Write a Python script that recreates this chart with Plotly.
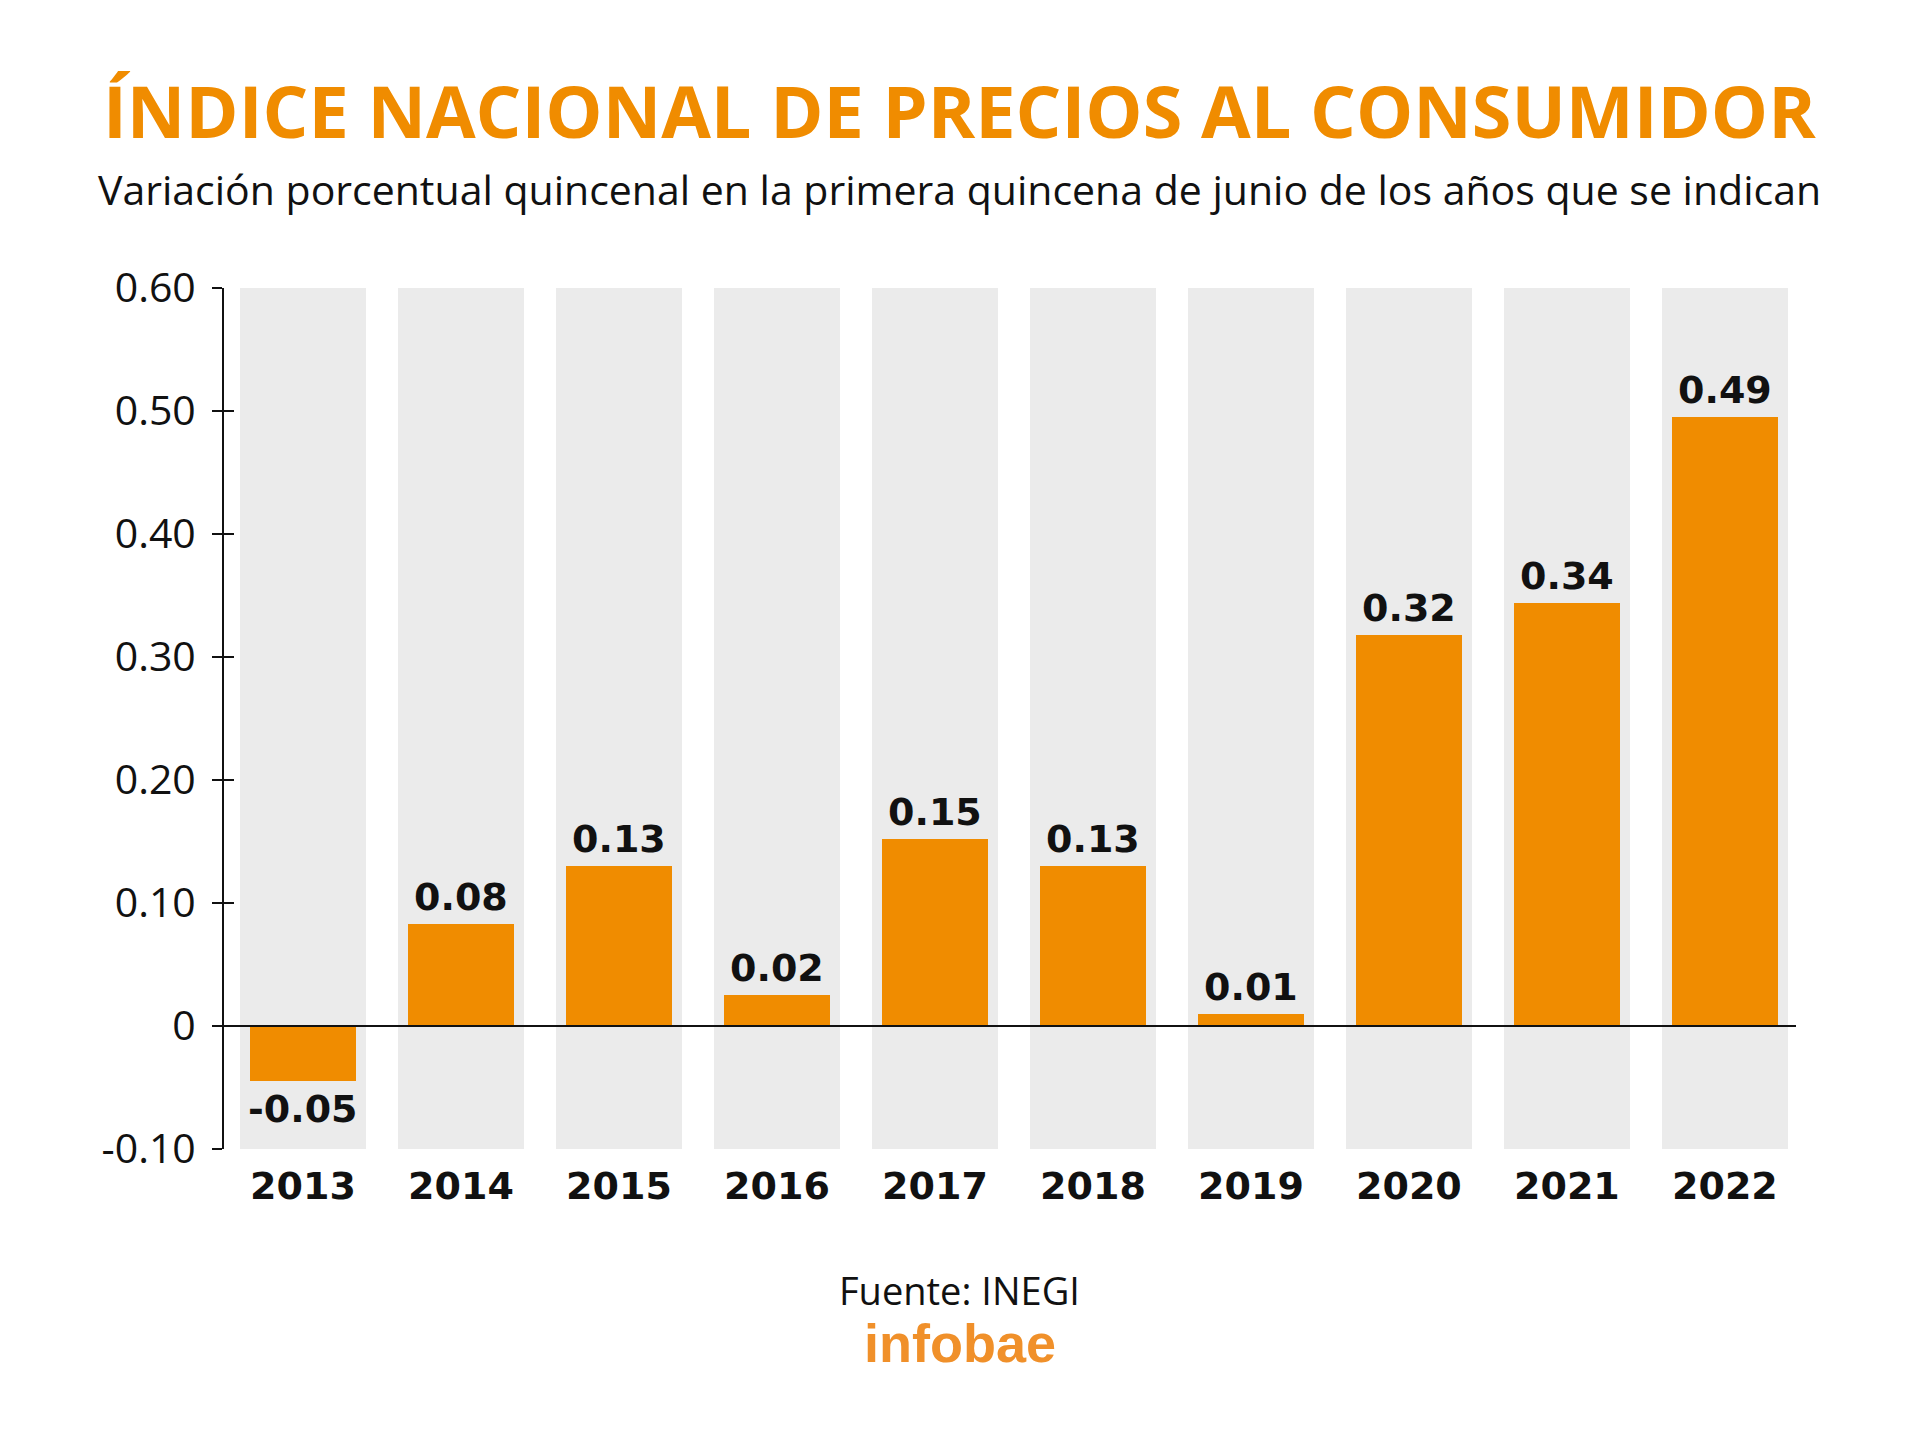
import plotly.graph_objects as go

years = ["2013", "2014", "2015", "2016", "2017", "2018", "2019", "2020", "2021", "2022"]
values = [-0.045, 0.083, 0.13, 0.025, 0.152, 0.13, 0.01, 0.318, 0.344, 0.495]
value_labels = ["-0.05", "0.08", "0.13", "0.02", "0.15", "0.13", "0.01", "0.32", "0.34", "0.49"]
y_tick_vals = [-0.1, 0, 0.1, 0.2, 0.3, 0.4, 0.5, 0.6]
y_tick_text = ["-0.10", "0", "0.10", "0.20", "0.30", "0.40", "0.50", "0.60"]

Y_MIN, Y_MAX = -0.1, 0.6
ORANGE = "#F08C00"
GREY = "#EBEBEB"
REG = "Open Sans, Liberation Sans, sans-serif"
BOLD = "DejaVu Sans, sans-serif"

fig = go.Figure()

# grey column backdrops spanning the whole value range
fig.add_trace(go.Bar(
    x=years, y=[Y_MAX - Y_MIN] * len(years), base=[Y_MIN] * len(years),
    width=0.8, marker=dict(color=GREY, line=dict(width=0)),
    hoverinfo="skip", showlegend=False,
))
fig.add_trace(go.Bar(
    x=years, y=values, width=0.67,
    marker=dict(color=ORANGE, line=dict(width=0)),
    showlegend=False,
))

annotations = []
for i, (v, lab) in enumerate(zip(values, value_labels)):
    annotations.append(dict(
        x=i, y=v, xref="x", yref="y", text=lab, showarrow=False,
        yanchor="bottom" if v >= 0 else "top",
        yshift=3 if v >= 0 else -4,
        font=dict(family=BOLD, size=38, color="#111111", weight="bold"),
    ))

def py(pix):
    return (1149 - pix) / 861.0

annotations += [
    dict(text="ÍNDICE NACIONAL DE PRECIOS AL CONSUMIDOR", x=0.468, y=py(110),
         xref="paper", yref="paper", showarrow=False, xanchor="center", yanchor="middle",
         font=dict(family="Open Sans, sans-serif", size=72, color=ORANGE, weight="bold")),
    dict(text="Variación porcentual quincenal en la primera quincena de junio de los años que se indican",
         x=0.468, y=py(189), xref="paper", yref="paper", showarrow=False,
         xanchor="center", yanchor="middle",
         font=dict(family=REG, size=41, color="#111111")),
    dict(text="Fuente: INEGI", x=0.468, y=py(1290), xref="paper", yref="paper",
         showarrow=False, xanchor="center", yanchor="middle",
         font=dict(family=REG, size=38, color="#111111")),
    dict(text="infobae", x=0.468, y=py(1343), xref="paper", yref="paper",
         showarrow=False, xanchor="center", yanchor="middle",
         font=dict(family="Liberation Sans, Arial, sans-serif", size=54, color="#F0902A", weight="bold")),
]

fig.update_layout(
    width=1920, height=1450,
    margin=dict(l=224, r=124, t=288, b=301),
    paper_bgcolor="white", plot_bgcolor="white",
    barmode="overlay", bargap=0,
    annotations=annotations,
    shapes=[dict(type="line", xref="paper", yref="y", x0=0, x1=1, y0=0, y1=0,
                 line=dict(color="#111111", width=2), layer="above")],
    xaxis=dict(
        type="category", range=[-0.5, 9.45], showgrid=False, showline=False, zeroline=False,
        ticks="", ticklabelstandoff=11,
        tickfont=dict(family=BOLD, size=38, color="#111111", weight="bold"),
    ),
    yaxis=dict(
        range=[Y_MIN, Y_MAX], tickvals=y_tick_vals, ticktext=y_tick_text,
        showgrid=False, zeroline=False, showline=True, linecolor="#111111", linewidth=2,
        ticks="outside", ticklen=10, tickwidth=2, tickcolor="#111111", ticklabelstandoff=8,
        tickfont=dict(family=REG, size=41, color="#111111"),
    ),
    yaxis2=dict(
        overlaying="y", matches="y", anchor="x", side="left",
        range=[Y_MIN, Y_MAX], tickvals=y_tick_vals, showticklabels=False,
        showgrid=False, zeroline=False, showline=False,
        ticks="inside", ticklen=10, tickwidth=2, tickcolor="#111111",
    ),
)
# invisible trace so the inner tick axis is drawn
fig.add_trace(go.Scatter(x=[years[0]], y=[0], yaxis="y2", mode="markers",
                         marker=dict(opacity=0), hoverinfo="skip", showlegend=False))

fig.write_html("out.html")
